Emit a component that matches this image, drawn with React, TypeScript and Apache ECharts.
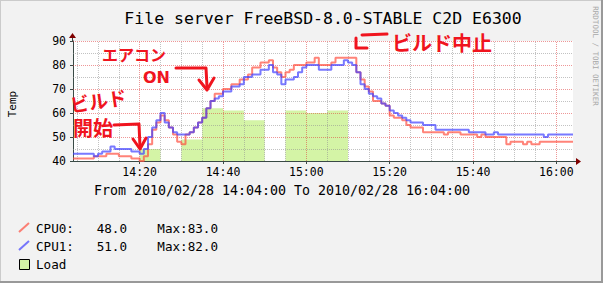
import React, { useEffect, useRef } from 'react';
import * as echarts from 'echarts';

// minutes after 14:00
const startMinute = 4;
const endMinute = 124;

// CPU temperatures, one value per minute from 14:04
const cpu0 = [
  41, 41, 41, 41, 41, 42, 42, 42, 43, 43, 43, 42, 42, 42, 41, 41,
  40, 42, 47, 53, 56, 59, 57, 54, 51, 48, 47, 51, 52, 54, 56, 58,
  62, 65, 68, 68, 70, 70, 72, 72, 74, 74, 76, 79, 79, 81, 81, 82,
  79, 77, 75, 77, 78, 80, 80, 80, 81, 81, 83, 80, 80, 80, 81, 83,
  83, 83, 83, 83, 77, 74, 71, 69, 65, 65, 64, 63, 59, 58, 58, 57,
  55, 54, 54, 54, 52, 52, 52, 52, 52, 51, 52, 52, 52, 51, 51, 51,
  51, 50, 51, 50, 50, 50, 50, 50, 47, 48, 48, 48, 47, 48, 47, 47,
  48, 48, 48, 48, 48, 48, 48, 48,
];
const cpu1 = [
  43, 43, 43, 43, 43, 42, 43, 44, 44, 46, 45, 45, 45, 45, 44, 44,
  43, 45, 50, 54, 57, 60, 56, 54, 52, 51, 51, 51, 52, 54, 56, 58,
  62, 65, 66, 67, 69, 69, 71, 71, 72, 75, 75, 76, 76, 78, 78, 80,
  77, 76, 72, 74, 74, 75, 77, 79, 80, 80, 80, 78, 78, 78, 80, 80,
  80, 82, 81, 80, 77, 72, 70, 68, 67, 66, 64, 63, 61, 60, 59, 58,
  57, 56, 56, 56, 55, 55, 55, 53, 53, 53, 53, 53, 53, 53, 53, 52,
  52, 52, 52, 51, 51, 52, 51, 51, 51, 51, 51, 51, 51, 51, 51, 51,
  51, 50, 51, 51, 51, 51, 51, 51,
];

// Load, sampled in 5-minute blocks
const loadStartMinutes = [20, 30, 35, 40, 45, 55, 60, 65];
const loadValues = [45, 49, 62, 61, 57, 61, 60, 61];
const loadStepMinutes = 5;

const xTickMinutes = [20, 40, 60, 80, 100, 120];
const xMinorGridMinutes = [5, 10, 15, 25, 30, 35, 45, 50, 55, 65, 70, 75, 85, 90, 95, 105, 110, 115];
const yMajorGrid = [50, 60, 70, 80, 90];
const yMinorGrid = [45, 55, 65, 75, 85];

const titleText = 'File server FreeBSD-8.0-STABLE C2D E6300';
const rangeText = 'From 2010/02/28 14:04:00 To 2010/02/28 16:04:00';

const MONO = '"DejaVu Sans Mono", monospace';
const CJK = '"Noto Sans CJK JP", sans-serif';
const RED = '#f0141e';
const CPU0_COLOR = '#ff4f3f';
const CPU1_COLOR = '#4040ff';
const LOAD_COLOR = '#d4f4a6';

function fmtTime(v: number) {
  const h = 14 + Math.floor(v / 60);
  const m = Math.round(v % 60);
  return `${h}:${String(m).padStart(2, '0')}`;
}

function cpuData(arr: number[]) {
  const d: (number | null)[][] = arr.map((v, i) => [startMinute + i, v]);
  d.push([endMinute, arr[arr.length - 1]]);
  return d;
}

function loadData() {
  const d: (number | null)[][] = [];
  let prevEnd: number | null = null;
  loadStartMinutes.forEach((s, i) => {
    const e = s + loadStepMinutes;
    if (prevEnd !== null && prevEnd !== s) d.push([prevEnd, null]);
    d.push([s, loadValues[i]]);
    d.push([e, loadValues[i]]);
    prevEnd = e;
  });
  return d;
}

function legendLine(name: string, arr: number[]) {
  const last = arr[arr.length - 1].toFixed(1).padStart(5, ' ');
  const max = Math.max(...arr).toFixed(1);
  return `${name}:  ${last}    Max:${max}`;
}

export default function App() {
  const ref = useRef<HTMLDivElement>(null);
  useEffect(() => {
    document.body.style.margin = '0';
    if (!ref.current) return;
    const chart = echarts.init(ref.current, undefined, { renderer: 'svg' });
    const minorStyle = { color: 'rgba(143,143,143,0.55)', type: [1, 1] as any, width: 1 };
    const majorStyle = { color: 'rgba(222,48,48,0.5)', type: [1, 1] as any, width: 1 };
    const gridLines: any[] = [
      ...xMinorGridMinutes.map((v) => ({ xAxis: v, lineStyle: minorStyle })),
      ...xTickMinutes.map((v) => ({ xAxis: v, lineStyle: majorStyle })),
      ...yMinorGrid.map((v) => ({ yAxis: v, lineStyle: minorStyle })),
      ...yMajorGrid.map((v) => ({ yAxis: v, lineStyle: majorStyle })),
    ];
    const option: any = {
      animation: false,
      backgroundColor: '#f2f2f2',
      grid: { left: 73, top: 41, width: 500, height: 120, show: true, backgroundColor: '#ffffff', borderWidth: 0 },
      xAxis: {
        type: 'value',
        min: startMinute,
        max: endMinute,
        axisLine: { show: true, lineStyle: { color: '#3a4a46', width: 1 } },
        axisTick: { show: true, length: 3, customValues: xTickMinutes, lineStyle: { color: '#3a4a46' } },
        axisLabel: {
          customValues: xTickMinutes,
          formatter: (v: number) => (v % 20 === 0 ? fmtTime(v) : ''),
          fontFamily: MONO,
          fontSize: 11.5,
          color: '#000',
          margin: 5,
        },
        splitLine: { show: false },
      },
      yAxis: {
        type: 'value',
        min: 40,
        max: 90,
        interval: 10,
        axisLine: { show: true, lineStyle: { color: '#3a4a46', width: 1 } },
        axisTick: { show: true, length: 3, lineStyle: { color: '#3a4a46' } },
        axisLabel: { fontFamily: MONO, fontSize: 11.5, color: '#000', margin: 7 },
        splitLine: { show: false },
      },
      series: [
        {
          name: 'Load',
          type: 'line',
          data: loadData(),
          symbol: 'none',
          z: 2,
          lineStyle: { width: 0 },
          areaStyle: { color: LOAD_COLOR, opacity: 1, origin: 'start' },
          silent: true,
        },
        {
          name: 'grid',
          type: 'line',
          data: [],
          symbol: 'none',
          z: 4,
          silent: true,
          markLine: {
            silent: true,
            symbol: ['none', 'none'],
            label: { show: false },
            animation: false,
            data: gridLines,
          },
        },
        {
          name: 'CPU0',
          type: 'line',
          step: 'end',
          data: cpuData(cpu0),
          symbol: 'none',
          z: 6,
          lineStyle: { color: CPU0_COLOR, width: 2, opacity: 0.7 },
        },
        {
          name: 'CPU1',
          type: 'line',
          step: 'end',
          data: cpuData(cpu1),
          symbol: 'none',
          z: 7,
          lineStyle: { color: CPU1_COLOR, width: 2, opacity: 0.7 },
        },
      ],
      graphic: [
        // frame
        { type: 'line', shape: { x1: 0.5, y1: 0, x2: 0.5, y2: 283 }, style: { stroke: '#cbcbcb', lineWidth: 1 } },
        { type: 'line', shape: { x1: 0, y1: 0.5, x2: 603, y2: 0.5 }, style: { stroke: '#cbcbcb', lineWidth: 1 } },
        { type: 'line', shape: { x1: 602, y1: 0, x2: 602, y2: 283 }, style: { stroke: '#999999', lineWidth: 2 } },
        { type: 'line', shape: { x1: 0, y1: 282, x2: 603, y2: 282 }, style: { stroke: '#999999', lineWidth: 2 } },
        // axis arrows
        { type: 'line', z: 10, shape: { x1: 573, y1: 161.5, x2: 578, y2: 161.5 }, style: { stroke: '#3a4a46', lineWidth: 1 } },
        { type: 'polygon', z: 10, shape: { points: [[576, 158], [581, 161.5], [576, 165]] }, style: { fill: '#7f0000' } },
        { type: 'line', z: 10, shape: { x1: 72.5, y1: 41, x2: 72.5, y2: 36 }, style: { stroke: '#3a4a46', lineWidth: 1 } },
        { type: 'polygon', z: 10, shape: { points: [[69, 38], [72.5, 33], [76, 38]] }, style: { fill: '#7f0000' } },
        // titles
        {
          type: 'text', x: 323, y: 18,
          style: { text: titleText, font: `16.5px ${MONO}`, fill: '#000', align: 'center', verticalAlign: 'middle' },
        },
        {
          type: 'text', x: 282, y: 190,
          style: { text: rangeText, font: `13.3px ${MONO}`, fill: '#000', align: 'center', verticalAlign: 'middle' },
        },
        {
          type: 'text', x: 12, y: 104, rotation: Math.PI / 2,
          style: { text: 'Temp', font: `11px ${MONO}`, fill: '#000', align: 'center', verticalAlign: 'middle' },
        },
        {
          type: 'text', x: 595, y: 56, rotation: -Math.PI / 2,
          style: { text: 'RRDTOOL / TOBI OETIKER', font: `7.5px ${MONO}`, fill: '#a8a8a8', align: 'center', verticalAlign: 'middle' },
        },
        // legend
        { type: 'line', shape: { x1: 19, y1: 232, x2: 29, y2: 223 }, style: { stroke: CPU0_COLOR, lineWidth: 2, opacity: 0.7 } },
        {
          type: 'text', x: 36, y: 228,
          style: { text: legendLine('CPU0', cpu0), font: `12.6px ${MONO}`, fill: '#000', align: 'left', verticalAlign: 'middle' },
        },
        { type: 'line', shape: { x1: 19, y1: 250, x2: 29, y2: 241 }, style: { stroke: CPU1_COLOR, lineWidth: 2, opacity: 0.7 } },
        {
          type: 'text', x: 36, y: 246,
          style: { text: legendLine('CPU1', cpu1), font: `12.6px ${MONO}`, fill: '#000', align: 'left', verticalAlign: 'middle' },
        },
        { type: 'rect', shape: { x: 19.5, y: 259.5, width: 10, height: 10 }, style: { fill: LOAD_COLOR, stroke: '#000', lineWidth: 1 } },
        {
          type: 'text', x: 36, y: 264,
          style: { text: 'Load', font: `12.6px ${MONO}`, fill: '#000', align: 'left', verticalAlign: 'middle' },
        },
        // hand-written annotations
        {
          type: 'text', x: 102, y: 54, z: 20,
          style: { text: 'エアコン', font: `bold 16px ${CJK}`, fill: RED, align: 'left', verticalAlign: 'middle' },
        },
        {
          type: 'text', x: 143, y: 77, z: 20,
          style: { text: 'ON', font: `bold 16px "DejaVu Sans", sans-serif`, fill: RED, align: 'left', verticalAlign: 'middle' },
        },
        { type: 'polyline', z: 20, shape: { points: [[176, 68], [206, 68], [207, 87]] }, style: { stroke: RED, lineWidth: 3, fill: 'none', lineCap: 'round', lineJoin: 'round' } },
        { type: 'polyline', z: 20, shape: { points: [[199, 80], [207, 90], [214, 78]] }, style: { stroke: RED, lineWidth: 3, fill: 'none', lineCap: 'round', lineJoin: 'round' } },
        {
          type: 'text', x: 70, y: 104, rotation: 0.14, z: 20,
          style: { text: 'ビルド', font: `bold 19px ${CJK}`, fill: RED, align: 'left', verticalAlign: 'middle' },
        },
        {
          type: 'text', x: 73, y: 127, z: 20,
          style: { text: '開始', font: `bold 20px ${CJK}`, fill: RED, align: 'left', verticalAlign: 'middle' },
        },
        { type: 'polyline', z: 20, shape: { points: [[114, 125], [139, 124], [140, 147]] }, style: { stroke: RED, lineWidth: 3, fill: 'none', lineCap: 'round', lineJoin: 'round' } },
        { type: 'polyline', z: 20, shape: { points: [[133, 139], [140, 149], [146, 138]] }, style: { stroke: RED, lineWidth: 3, fill: 'none', lineCap: 'round', lineJoin: 'round' } },
        {
          type: 'text', x: 392, y: 42, z: 20,
          style: { text: 'ビルド中止', font: `bold 20px ${CJK}`, fill: RED, align: 'left', verticalAlign: 'middle' },
        },
        { type: 'polyline', z: 20, shape: { points: [[387, 34], [362, 35]] }, style: { stroke: RED, lineWidth: 3, fill: 'none', lineCap: 'round' } },
        { type: 'polyline', z: 20, shape: { points: [[356, 38], [356, 48], [367, 48]] }, style: { stroke: RED, lineWidth: 3, fill: 'none', lineCap: 'round', lineJoin: 'round' } },
      ],
    };
    chart.setOption(option);
    return () => chart.dispose();
  }, []);
  return <div ref={ref} style={{ width: 603, height: 283 }} />;
}
